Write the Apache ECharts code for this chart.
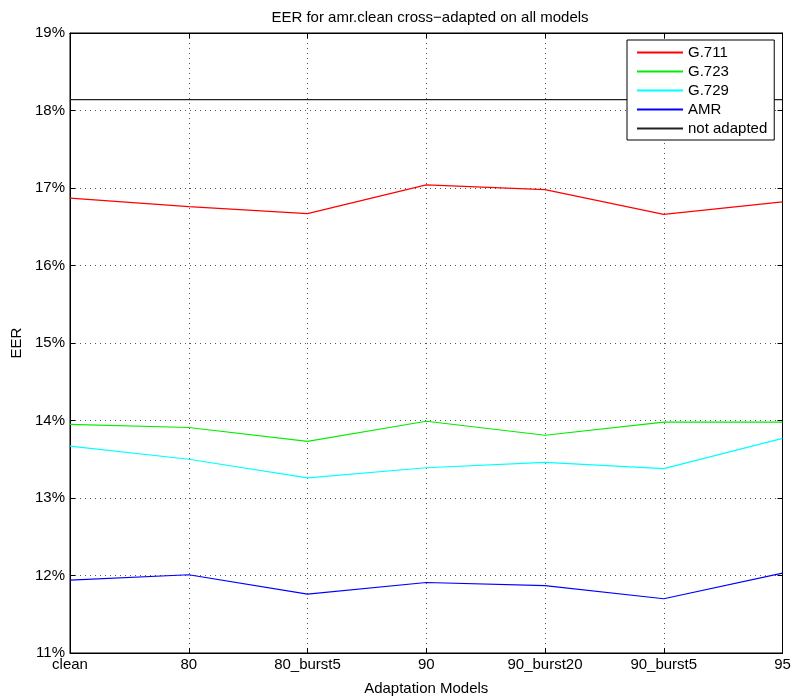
<!DOCTYPE html>
<html>
<head>
<meta charset="utf-8">
<script src="https://cdn.jsdelivr.net/npm/echarts@6/dist/echarts.min.js"></script>
<style>html,body{margin:0;padding:0;background:#fff;}#c{width:795px;height:697px;}</style>
</head>
<body>
<div id="c"></div>
<script>
const categories = ['clean', '80', '80_burst5', '90', '90_burst20', '90_burst5', '95'];
const g711 = [16.87, 16.76, 16.67, 17.04, 16.98, 16.66, 16.82];
const g723 = [13.95, 13.91, 13.73, 13.99, 13.81, 13.98, 13.98];
const g729 = [13.67, 13.50, 13.26, 13.39, 13.46, 13.38, 13.77];
const amr = [11.94, 12.01, 11.76, 11.91, 11.87, 11.70, 12.03];
const notAdapted = [18.14, 18.14, 18.14, 18.14, 18.14, 18.14, 18.14];
const yTicks = [11, 12, 13, 14, 15, 16, 17, 18, 19];

const FONT = 'Liberation Sans';
const chart = echarts.init(document.getElementById('c'));
function line(name, data, color) {
  return {
    name: name, type: 'line', data: data, showSymbol: false, symbol: 'none',
    legendIcon: 'path://M0,0 L46,0 L46,1 L0,1 Z',
    lineStyle: { color: color, width: 1.2 }, itemStyle: { color: color },
    animation: false, z: 3
  };
}
chart.setOption({
  animation: false,
  backgroundColor: '#fff',
  textStyle: { fontFamily: FONT },
  title: {
    text: 'EER for amr.clean cross\u2212adapted on all models',
    left: 425, textAlign: 'center', top: 5,
    textStyle: { fontFamily: FONT, fontSize: 15, fontWeight: 'normal', color: '#000' }
  },
  grid: { left: 70, right: 12.5, top: 33, bottom: 44, containLabel: false, outerBoundsMode: 'none',
    show: true, borderColor: '#000', borderWidth: 1, backgroundColor: '#fff' },
  legend: {
    orient: 'vertical', left: 627, top: 40,
    backgroundColor: '#fff', borderColor: '#000', borderWidth: 1,
    padding: [3, 7, 2, 9], itemGap: 0, itemWidth: 46, itemHeight: 1,
    textStyle: { fontFamily: FONT, fontSize: 15, color: '#000', lineHeight: 19, height: 19 },
    data: ['G.711', 'G.723', 'G.729', 'AMR', 'not adapted']
  },
  xAxis: [{
    type: 'category', data: categories, boundaryGap: false,
    name: 'Adaptation Models', nameLocation: 'middle', nameGap: 28,
    nameTextStyle: { fontFamily: FONT, fontSize: 15, color: '#000' },
    axisLine: { show: true, lineStyle: { color: '#000', width: 1 } },
    axisTick: { show: true, inside: true, length: 5, lineStyle: { color: '#000' } },
    axisLabel: { fontFamily: FONT, fontSize: 15, color: '#000', margin: 4, showMinLabel: true, showMaxLabel: true, interval: 0 },
    splitLine: { show: true, lineStyle: { color: '#555', type: [1, 4], width: 1 } }
  }, {
    type: 'category', data: categories, boundaryGap: false, position: 'top',
    axisLine: { show: true, lineStyle: { color: '#000' } },
    axisTick: { show: true, inside: true, length: 5, lineStyle: { color: '#000' } },
    axisLabel: { show: false }, splitLine: { show: false }
  }],
  yAxis: [{
    type: 'value', min: 11, max: 19, interval: 1,
    name: 'EER', nameLocation: 'middle', nameGap: 43, nameRotate: 90,
    nameTextStyle: { fontFamily: FONT, fontSize: 15, color: '#000' },
    axisLine: { show: true, lineStyle: { color: '#000' } },
    axisTick: { show: true, inside: true, length: 5, lineStyle: { color: '#000' } },
    axisLabel: { fontFamily: FONT, fontSize: 15, color: '#000', margin: 5,
      formatter: function (v) { return yTicks.indexOf(v) >= 0 ? v + '%' : ''; } },
    splitLine: { show: true, lineStyle: { color: '#555', type: [1, 4], width: 1 } }
  }, {
    type: 'value', min: 11, max: 19, interval: 1, position: 'right',
    axisLine: { show: true, lineStyle: { color: '#000' } },
    axisTick: { show: true, inside: true, length: 5, lineStyle: { color: '#000' } },
    axisLabel: { show: false }, splitLine: { show: false }
  }],
  series: [
    line('G.711', g711, '#ff0000'),
    line('G.723', g723, '#00ee00'),
    line('G.729', g729, '#00ffff'),
    line('AMR', amr, '#0000ff'),
    line('not adapted', notAdapted, '#222222')
  ]
});
</script>
</body>
</html>
